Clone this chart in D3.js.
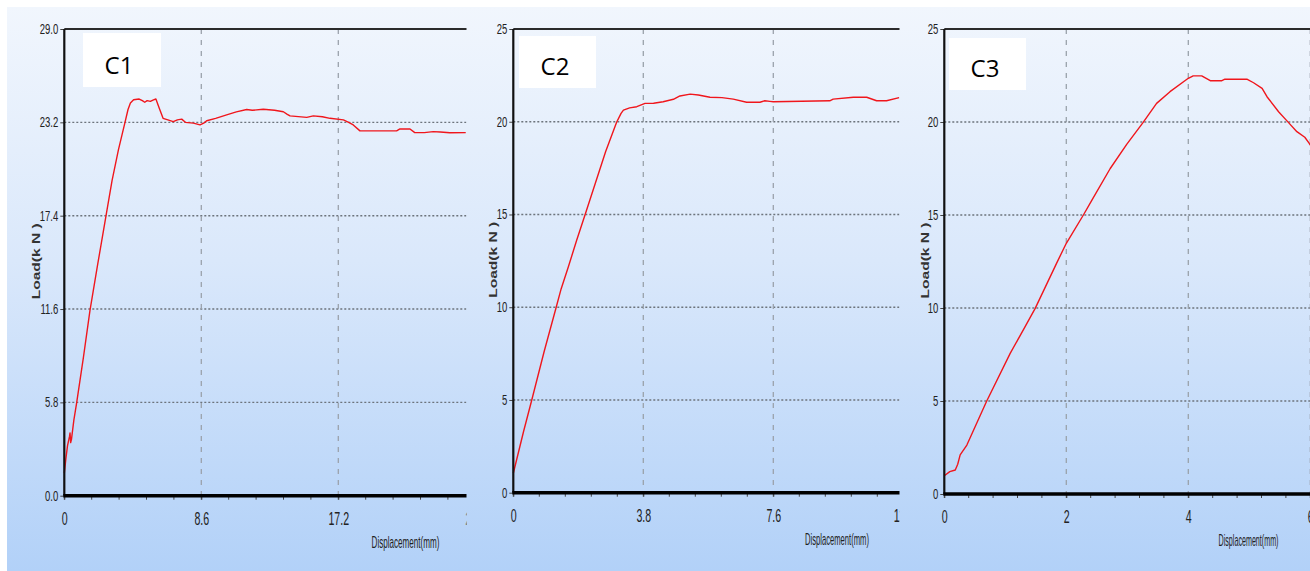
<!DOCTYPE html>
<html>
<head>
<meta charset="utf-8">
<script src="https://cdn.jsdelivr.net/npm/d3@7/dist/d3.min.js"></script>
<style>
  html, body { margin: 0; padding: 0; background: #ffffff; }
  svg { display: block; }
</style>
</head>
<body>
<svg id="chart" width="1310" height="571"></svg>
<script>
// ---------------- DATA ----------------
const panelNames = ["C1", "C2", "C3"];

const c1Disp = [0, 0.1, 0.2, 0.33, 0.36, 0.4, 0.45, 0.6, 0.78, 1.2, 1.61, 2.1, 2.62, 3.0, 3.4, 3.81, 4.0, 4.15, 4.35, 4.7, 4.9, 5.05, 5.2, 5.4, 5.6, 5.75, 5.95, 6.2, 6.5, 6.84, 7.1, 7.37, 7.6, 8.1, 8.52, 8.75, 8.94, 9.5, 10.19, 10.8, 11.45, 11.8, 12.49, 13.2, 13.75, 14.0, 14.17, 15.22, 15.63, 16.2, 16.68, 17.52, 17.85, 18.14, 18.56, 20.86, 21.07, 21.7, 22.0, 22.6, 23.16, 23.6, 24.2, 25.2];
const c1Load = [1.4, 2.3, 3.1, 3.7, 3.9, 3.3, 3.5, 4.7, 5.8, 8.6, 11.5, 14.4, 17.4, 19.6, 21.5, 23.2, 24.0, 24.4, 24.6, 24.65, 24.55, 24.45, 24.55, 24.5, 24.6, 24.65, 24.1, 23.45, 23.35, 23.24, 23.35, 23.4, 23.2, 23.15, 23.04, 23.15, 23.3, 23.45, 23.66, 23.85, 24.0, 23.95, 24.01, 23.95, 23.86, 23.7, 23.6, 23.51, 23.6, 23.55, 23.45, 23.35, 23.2, 23.04, 22.67, 22.67, 22.79, 22.79, 22.56, 22.56, 22.62, 22.6, 22.55, 22.56];

const c2Disp = [0, 0.3, 0.54, 0.9, 1.25, 1.4, 1.61, 1.85, 2.1, 2.4, 2.7, 3.02, 3.15, 3.22, 3.4, 3.61, 3.85, 4.1, 4.38, 4.68, 4.87, 5.17, 5.41, 5.75, 6.1, 6.43, 6.82, 7.21, 7.35, 7.5, 7.6, 9.25, 9.35, 9.94, 10.33, 10.62, 10.91, 11.28];
const c2Load = [1.05, 3.3, 5.0, 7.6, 9.97, 11.0, 12.18, 13.6, 15.0, 16.7, 18.4, 19.97, 20.45, 20.63, 20.75, 20.81, 20.99, 21.0, 21.08, 21.21, 21.39, 21.49, 21.44, 21.32, 21.3, 21.22, 21.05, 21.05, 21.13, 21.1, 21.08, 21.13, 21.22, 21.32, 21.32, 21.13, 21.13, 21.3];

const c3Disp = [0, 0.09, 0.18, 0.22, 0.26, 0.37, 0.69, 1.08, 1.3, 1.49, 1.84, 2.0, 2.28, 2.42, 2.72, 2.99, 3.26, 3.48, 3.7, 4.0, 4.08, 4.22, 4.36, 4.55, 4.6, 4.96, 5.07, 5.21, 5.29, 5.48, 5.64, 5.78, 5.91, 5.98, 6.0];
const c3Load = [0.98, 1.2, 1.29, 1.6, 2.1, 2.63, 4.96, 7.56, 8.85, 9.98, 12.4, 13.48, 15.0, 15.8, 17.5, 18.8, 19.98, 21.0, 21.63, 22.35, 22.48, 22.48, 22.22, 22.22, 22.3, 22.3, 22.11, 21.81, 21.36, 20.55, 19.98, 19.48, 19.18, 18.86, 18.75];

const c1XTicks = [0, 8.6, 17.2, 25.8];
const c1XLabels = ["0", "8.6", "17.2", "25.8"];
const c1YTicks = [0, 5.8, 11.6, 17.4, 23.2, 29.0];
const c1YLabels = ["0.0", "5.8", "11.6", "17.4", "23.2", "29.0"];

const c2XTicks = [0, 3.8, 7.6, 11.4];
const c2XLabels = ["0", "3.8", "7.6", "11.4"];
const c2YTicks = [0, 5, 10, 15, 20, 25];
const c2YLabels = ["0", "5", "10", "15", "20", "25"];

const c3XTicks = [0, 2, 4, 6];
const c3XLabels = ["0", "2", "4", "6"];
const c3YTicks = [0, 5, 10, 15, 20, 25];
const c3YLabels = ["0", "5", "10", "15", "20", "25"];

const xTitle = "Displacement(mm)";
const yTitle = "Load(k N )";

// ---------------- LAYOUT ----------------
const panels = [
  { name: panelNames[0], disp: c1Disp, load: c1Load, xTicks: c1XTicks, xLabels: c1XLabels, yTicks: c1YTicks, yLabels: c1YLabels,
    left: 64.3, bottom: 495.7, top: 29, majorPx: 137, clipRight: 466.5,
    box: [83, 33, 78, 54], boxText: [119, 73.5], yTitleX: 36, xTitleX: 405.5, xTitleW: 68 },
  { name: panelNames[1], disp: c2Disp, load: c2Load, xTicks: c2XTicks, xLabels: c2XLabels, yTicks: c2YTicks, yLabels: c2YLabels,
    left: 513.3, bottom: 492.7, top: 29, majorPx: 130, clipRight: 899.5,
    box: [519, 36, 77, 52], boxText: [555, 74.5], yTitleX: 493, xTitleX: 837, xTitleW: 64 },
  { name: panelNames[2], disp: c3Disp, load: c3Load, xTicks: c3XTicks, xLabels: c3XLabels, yTicks: c3YTicks, yLabels: c3YLabels,
    left: 944.3, bottom: 494, top: 29, majorPx: 122, clipRight: 1310.5,
    box: [949, 38, 77, 52], boxText: [985, 77], yTitleX: 925, xTitleX: 1248.5, xTitleW: 60 }
];

const svg = d3.select("#chart");
const defs = svg.append("defs");

const grad = defs.append("linearGradient").attr("id", "bg").attr("x1", 0).attr("y1", 0).attr("x2", 0).attr("y2", 1);
grad.append("stop").attr("offset", "0%").attr("stop-color", "#f1f6fd");
grad.append("stop").attr("offset", "45%").attr("stop-color", "#dae8fb");
grad.append("stop").attr("offset", "100%").attr("stop-color", "#b2d1f8");

svg.append("rect").attr("x", 0).attr("y", 0).attr("width", 1310).attr("height", 571).attr("fill", "#ffffff");
svg.append("rect").attr("x", 7).attr("y", 7).attr("width", 1303).attr("height", 564).attr("fill", "url(#bg)");

function squeeze(sel, factor) {
  sel.each(function () {
    const len = this.getComputedTextLength();
    d3.select(this).attr("textLength", len * factor).attr("lengthAdjust", "spacingAndGlyphs");
  });
}

panels.forEach((p, i) => {
  const nMaj = p.xTicks.length - 1;
  const x = d3.scaleLinear().domain([0, p.xTicks[nMaj]]).range([p.left, p.left + nMaj * p.majorPx]);
  const y = d3.scaleLinear().domain([0, p.yTicks[p.yTicks.length - 1]]).range([p.bottom, p.top]);

  const clipId = "clip" + i;
  defs.append("clipPath").attr("id", clipId)
    .append("rect").attr("x", p.left - 60).attr("y", 0).attr("width", p.clipRight - (p.left - 60)).attr("height", 571);

  const g = svg.append("g").attr("clip-path", `url(#${clipId})`);

  // horizontal dotted gridlines
  g.selectAll(".hgrid").data(p.yTicks.slice(1, -1)).enter().append("line")
    .attr("x1", p.left).attr("x2", x.range()[1])
    .attr("y1", d => y(d)).attr("y2", d => y(d))
    .attr("stroke", "#6d747c").attr("stroke-width", 1.4).attr("stroke-dasharray", "2,2");

  // vertical dashed gridlines
  g.selectAll(".vgrid").data(p.xTicks.slice(1)).enter().append("line")
    .attr("x1", d => x(d)).attr("x2", d => x(d))
    .attr("y1", p.top).attr("y2", p.bottom)
    .attr("stroke", "#9aa2ab").attr("stroke-width", 1.3).attr("stroke-dasharray", "5,6");

  // minor x ticks
  const minor = [];
  const step = p.xTicks[1] / 5;
  for (let k = 0; k <= nMaj * 5; k++) minor.push(k * step);
  g.selectAll(".minor").data(minor).enter().append("line")
    .attr("x1", d => x(d)).attr("x2", d => x(d))
    .attr("y1", p.bottom).attr("y2", p.bottom + 4)
    .attr("stroke", "#444").attr("stroke-width", 1);

  // x axis labels
  const xAxis = d3.axisBottom(x).tickValues(p.xTicks).tickFormat((d, j) => p.xLabels[j]).tickSize(4).tickPadding(12);
  const xg = g.append("g").attr("transform", `translate(0,${p.bottom})`).call(xAxis);
  xg.select(".domain").remove();
  xg.selectAll(".tick line").attr("stroke", "#444");
  xg.selectAll("text").attr("font-family", "'Liberation Sans Narrow', 'Liberation Sans', sans-serif")
    .attr("font-size", 19).attr("fill", "#222");
  squeeze(xg.selectAll("text"), 0.56);

  // y axis labels
  const yAxis = d3.axisLeft(y).tickValues(p.yTicks).tickFormat((d, j) => p.yLabels[j]).tickSize(4).tickPadding(2);
  const yg = g.append("g").attr("transform", `translate(${p.left},0)`).call(yAxis);
  yg.select(".domain").remove();
  yg.selectAll(".tick line").attr("stroke", "#444");
  yg.selectAll("text").attr("font-family", "'Liberation Sans Narrow', 'Liberation Sans', sans-serif")
    .attr("font-size", 14).attr("fill", "#222");
  squeeze(yg.selectAll("text"), 0.68);

  // the curve
  const pts = p.disp.map((d, j) => [d, p.load[j]]);
  g.append("path").datum(pts)
    .attr("fill", "none").attr("stroke", "#f0161c").attr("stroke-width", 1.4)
    .attr("stroke-linejoin", "round")
    .attr("d", d3.line().x(d => x(d[0])).y(d => y(d[1])));

  // frame: top border, left axis, bottom axis
  g.append("line").attr("x1", p.left).attr("x2", x.range()[1]).attr("y1", p.top).attr("y2", p.top)
    .attr("stroke", "#2b2b2b").attr("stroke-width", 2);
  g.append("line").attr("x1", p.left).attr("x2", p.left).attr("y1", p.top).attr("y2", p.bottom)
    .attr("stroke", "#111").attr("stroke-width", 2.2);
  g.append("line").attr("x1", p.left - 1).attr("x2", x.range()[1]).attr("y1", p.bottom).attr("y2", p.bottom)
    .attr("stroke", "#000").attr("stroke-width", 3.6);

  // x axis title (horizontally condensed with a real scale transform)
  const xtG = g.append("g");
  const xt = xtG.append("text").attr("x", 0).attr("y", 0)
    .attr("text-anchor", "middle")
    .attr("font-family", "'Liberation Sans Narrow', 'Liberation Sans', sans-serif")
    .attr("font-size", 16).attr("fill", "#222")
    .text(xTitle);
  const natural = xt.node().getComputedTextLength();
  xtG.attr("transform", `translate(${p.xTitleX},${p.bottom + 52}) scale(${p.xTitleW / natural},1)`);

  g.append("text")
    .attr("transform", `translate(${p.yTitleX},${(p.top + p.bottom) / 2 - 1}) rotate(-90)`)
    .attr("text-anchor", "middle").attr("dy", "0.35em")
    .attr("font-family", "'Liberation Sans', Arial, sans-serif")
    .attr("font-size", 11).attr("font-weight", "bold").attr("fill", "#333")
    .attr("textLength", 76).attr("lengthAdjust", "spacingAndGlyphs")
    .text(yTitle);

  // label box
  g.append("rect").attr("x", p.box[0]).attr("y", p.box[1]).attr("width", p.box[2]).attr("height", p.box[3]).attr("fill", "#ffffff");
  g.append("text").attr("x", p.boxText[0]).attr("y", p.boxText[1]).attr("text-anchor", "middle")
    .attr("font-family", "'Open Sans', 'Liberation Sans', sans-serif").attr("font-size", 24).attr("fill", "#000")
    .text(p.name);
});
</script>
</body>
</html>
